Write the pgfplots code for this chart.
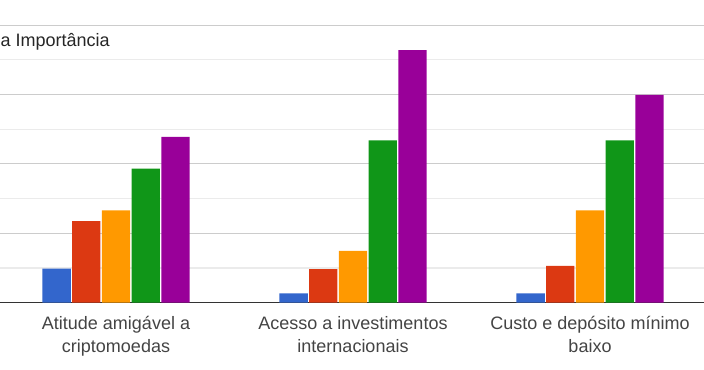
\documentclass[border=0pt]{standalone}
\usepackage{pgfplots}
\pgfplotsset{compat=1.18}
\usepackage{fontspec}
\setmainfont{Liberation Sans}
\definecolor{gblue}{HTML}{3366CC}
\definecolor{gred}{HTML}{DC3912}
\definecolor{gorange}{HTML}{FF9900}
\definecolor{ggreen}{HTML}{109618}
\definecolor{gpurple}{HTML}{990099}
\definecolor{glabel}{HTML}{444444}
\begin{document}
\begin{tikzpicture}
\begin{axis}[
  at={(0,0)}, anchor=south west,
  scale only axis,
  width=528pt, height=227pt,
  xmin=-0.4895, xmax=2.481,
  ymin=0, ymax=8.723,
  ybar=1.05pt,
  bar width=0.1194,
  axis line style={draw=none},
  xtick={0,1,2},
  xticklabels={{Atitude amigável a\\criptomoedas},{Acesso a investimentos\\internacionais},{Custo e depósito mínimo\\baixo}},
  xticklabel style={align=center, font=\fontsize{13.5}{17.2}\selectfont, text=glabel, inner sep=0pt, yshift=-10.2pt},
  major tick length=0pt, minor tick length=0pt,
  ytick={2,4,6,8},
  yticklabels={},
  minor ytick={1,3,5,7},
  ymajorgrids, yminorgrids,
  major grid style={draw=black!20, line width=0.8pt},
  minor grid style={draw=black!8, line width=0.8pt},
  extra y ticks={0},
  extra y tick labels={},
  extra y tick style={grid=major, major grid style={draw=black!80, line width=1.1pt}},
  axis on top=false,
  every axis plot/.append style={draw=none},
]
\addplot[fill=gblue] coordinates {(0,0.98) (1,0.27) (2,0.27)};
\addplot[fill=gred] coordinates {(0,2.35) (1,0.97) (2,1.06)};
\addplot[fill=gorange] coordinates {(0,2.66) (1,1.49) (2,2.66)};
\addplot[fill=ggreen] coordinates {(0,3.86) (1,4.68) (2,4.68)};
\addplot[fill=gpurple] coordinates {(0,4.78) (1,7.28) (2,5.99)};
\end{axis}
\node[anchor=west, inner sep=0pt, text=black!85, font=\fontsize{13.5}{16}\selectfont] at (0.3pt,195.5pt) {a Importância};
\pgfresetboundingbox
\path[use as bounding box] (0pt,-50.475pt) rectangle (528pt,227pt);
\end{tikzpicture}
\end{document}
